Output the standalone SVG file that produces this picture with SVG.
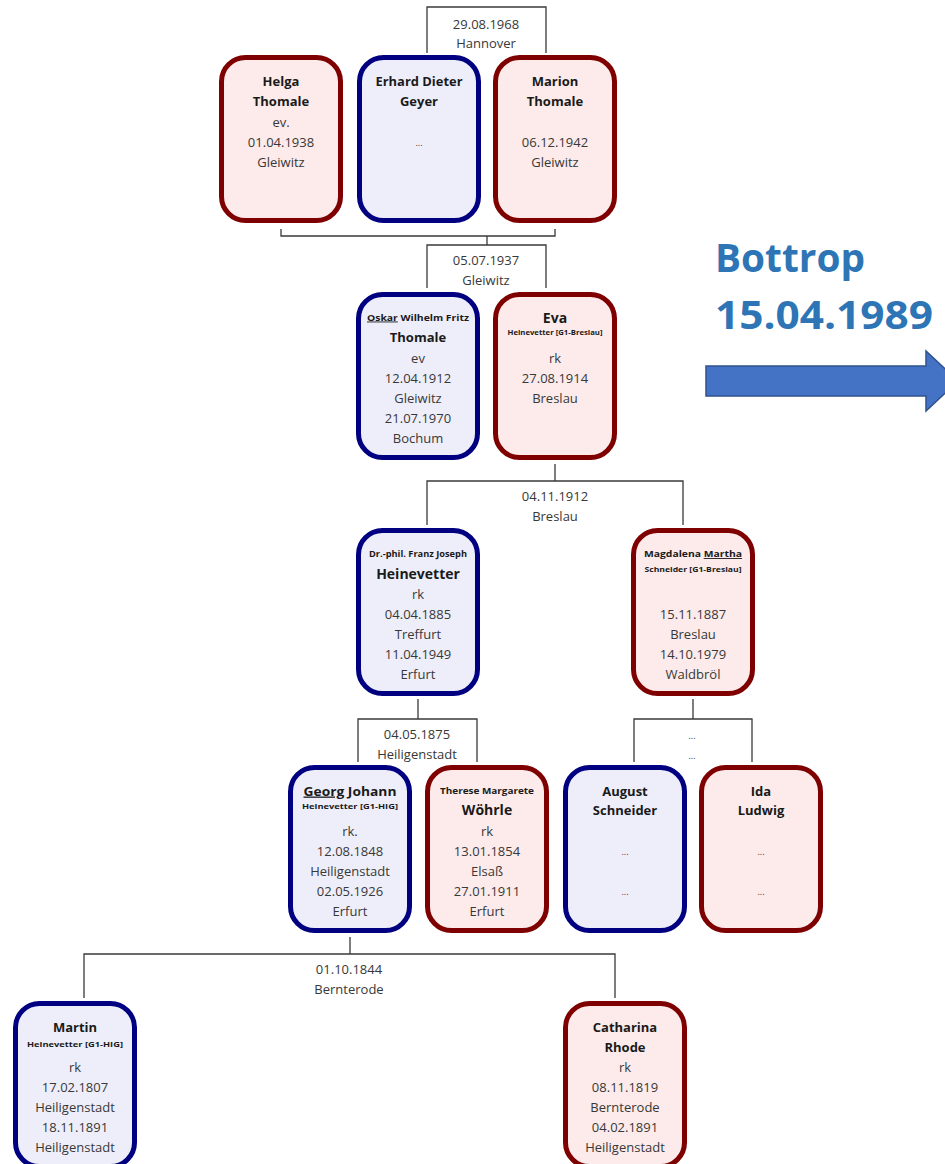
<svg xmlns="http://www.w3.org/2000/svg" width="945" height="1164" viewBox="0 0 945 1164">
<style>
.m use{fill:#EEEEFA;stroke:#000080;stroke-width:5}
.f use{fill:#FCEBEA;stroke:#7F0000;stroke-width:5}
text{font-family:"Open Sans","Noto Sans","DejaVu Sans",sans-serif;fill:#383838;text-anchor:middle}
.n{font-size:13px;font-weight:bold;fill:#1a1a1a}
.r{font-size:13px}
.s{font-size:8px;font-weight:bold;fill:#1a1a1a}
.d{font-size:9px}
.u{text-decoration:underline}
.conn path{fill:none;stroke:#3a3a3a;stroke-width:1.3}
.big{font-family:"Open Sans","Liberation Sans",sans-serif;font-size:40px;font-weight:bold;fill:#2E75B6;text-anchor:start}
</style>
<defs>
<rect id="box" x="2.5" y="2.5" width="119" height="163" rx="24" ry="24"/>
</defs>

<g id="connectors" class="conn">
<path d="M427,53 V7 H546 V53"/>
<path d="M281,229 V236 H555 V229 M487,236 V245"/>
<path d="M427,288 V245 H546 V288"/>
<path d="M555,464 V481 M427,525 V481 H683 V525"/>
<path d="M418,699 V719 M358,762 V719 H477 V762"/>
<path d="M693,699 V719 M634,762 V719 H752 V762"/>
<path d="M350,937 V954 M84,998 V954 H615 V998"/>
</g>

<g id="marriage-labels">
<text class="r" x="486" y="28.5">29.08.1968</text>
<text class="r" x="486" y="47.5">Hannover</text>
<text class="r" x="486" y="264.5">05.07.1937</text>
<text class="r" x="486" y="284.5">Gleiwitz</text>
<text class="r" x="555" y="501">04.11.1912</text>
<text class="r" x="555" y="520.5">Breslau</text>
<text class="r" x="417" y="738.5">04.05.1875</text>
<text class="r" x="417" y="758.5">Heiligenstadt</text>
<text class="d" x="692" y="739">...</text>
<text class="d" x="692" y="759">...</text>
<text class="r" x="349" y="974">01.10.1844</text>
<text class="r" x="349" y="994">Bernterode</text>
</g>

<g id="helga" class="f" transform="translate(219,55)">
<use href="#box"/>
<text class="n" x="62" y="31">Helga</text>
<text class="n" x="62" y="51">Thomale</text>
<text class="r" x="62" y="71.5">ev.</text>
<text class="r" x="62" y="91.5">01.04.1938</text>
<text class="r" x="62" y="111.5">Gleiwitz</text>
</g>

<g id="erhard" class="m" transform="translate(357,55)">
<use href="#box"/>
<text class="n" x="62" y="31" textLength="87" lengthAdjust="spacingAndGlyphs">Erhard Dieter</text>
<text class="n" x="62" y="51">Geyer</text>
<text class="d" x="62" y="91">...</text>
</g>

<g id="marion" class="f" transform="translate(493,55)">
<use href="#box"/>
<text class="n" x="62" y="31">Marion</text>
<text class="n" x="62" y="51">Thomale</text>
<text class="r" x="62" y="91.5">06.12.1942</text>
<text class="r" x="62" y="111.5">Gleiwitz</text>
</g>

<g id="oskar" class="m" transform="translate(356,292)">
<use href="#box"/>
<text class="s" x="62" y="28.5" style="font-size:9px" textLength="102" lengthAdjust="spacingAndGlyphs"><tspan class="u">Oskar</tspan> Wilhelm Fritz</text>
<text class="n" x="62" y="50">Thomale</text>
<text class="r" x="62" y="70.5">ev</text>
<text class="r" x="62" y="90.5">12.04.1912</text>
<text class="r" x="62" y="110.5">Gleiwitz</text>
<text class="r" x="62" y="130.5">21.07.1970</text>
<text class="r" x="62" y="150.5">Bochum</text>
</g>

<g id="eva" class="f" transform="translate(493,292)">
<use href="#box"/>
<text class="n" x="62" y="30.5" style="font-size:14px">Eva</text>
<text class="s" x="62" y="42.5" style="font-size:7px" textLength="95" lengthAdjust="spacingAndGlyphs">Heinevetter [G1-Breslau]</text>
<text class="r" x="62" y="70.5">rk</text>
<text class="r" x="62" y="90.5">27.08.1914</text>
<text class="r" x="62" y="110.5">Breslau</text>
</g>

<g id="franz" class="m" transform="translate(356,528)">
<use href="#box"/>
<text class="s" x="62" y="29" textLength="98" lengthAdjust="spacingAndGlyphs">Dr.-phil. Franz Joseph</text>
<text class="n" x="62" y="50.5" style="font-size:14px">Heinevetter</text>
<text class="r" x="62" y="71">rk</text>
<text class="r" x="62" y="90.5">04.04.1885</text>
<text class="r" x="62" y="111">Treffurt</text>
<text class="r" x="62" y="131">11.04.1949</text>
<text class="r" x="62" y="150.5">Erfurt</text>
</g>

<g id="magdalena" class="f" transform="translate(631,528)">
<use href="#box"/>
<text class="s" x="62" y="29" style="font-size:9px" textLength="98" lengthAdjust="spacingAndGlyphs">Magdalena <tspan class="u">Martha</tspan></text>
<text class="s" x="62" y="43.5" style="font-size:7px" textLength="97" lengthAdjust="spacingAndGlyphs">Schneider [G1-Breslau]</text>
<text class="r" x="62" y="90.5">15.11.1887</text>
<text class="r" x="62" y="111">Breslau</text>
<text class="r" x="62" y="131">14.10.1979</text>
<text class="r" x="62" y="150.5">Waldbröl</text>
</g>

<g id="georg" class="m" transform="translate(288,765)">
<use href="#box"/>
<text class="n" x="62" y="30.5" textLength="93" lengthAdjust="spacingAndGlyphs"><tspan class="u">Georg</tspan> Johann</text>
<text class="s" x="62" y="44" style="font-size:7px" textLength="96" lengthAdjust="spacingAndGlyphs">Heinevetter [G1-HIG]</text>
<text class="r" x="62" y="70.5">rk.</text>
<text class="r" x="62" y="90.5">12.08.1848</text>
<text class="r" x="62" y="110.5">Heiligenstadt</text>
<text class="r" x="62" y="130.5">02.05.1926</text>
<text class="r" x="62" y="150.5">Erfurt</text>
</g>

<g id="therese" class="f" transform="translate(425,765)">
<use href="#box"/>
<text class="s" x="62" y="28.5" textLength="94" lengthAdjust="spacingAndGlyphs">Therese Margarete</text>
<text class="n" x="62" y="50" style="font-size:14px">Wöhrle</text>
<text class="r" x="62" y="70.5">rk</text>
<text class="r" x="62" y="90.5">13.01.1854</text>
<text class="r" x="62" y="110.5">Elsaß</text>
<text class="r" x="62" y="130.5">27.01.1911</text>
<text class="r" x="62" y="150.5">Erfurt</text>
</g>

<g id="august" class="m" transform="translate(563,765)">
<use href="#box"/>
<text class="n" x="62" y="30.5">August</text>
<text class="n" x="62" y="50">Schneider</text>
<text class="d" x="62" y="90">...</text>
<text class="d" x="62" y="130">...</text>
</g>

<g id="ida" class="f" transform="translate(699,765)">
<use href="#box"/>
<text class="n" x="62" y="30.5">Ida</text>
<text class="n" x="62" y="50">Ludwig</text>
<text class="d" x="62" y="90">...</text>
<text class="d" x="62" y="130">...</text>
</g>

<g id="martin" class="m" transform="translate(13,1001)">
<use href="#box"/>
<text class="n" x="62" y="30.5">Martin</text>
<text class="s" x="62" y="46" style="font-size:7px" textLength="96" lengthAdjust="spacingAndGlyphs">Heinevetter [G1-HIG]</text>
<text class="r" x="62" y="70.5">rk</text>
<text class="r" x="62" y="90.5">17.02.1807</text>
<text class="r" x="62" y="110.5">Heiligenstadt</text>
<text class="r" x="62" y="130.5">18.11.1891</text>
<text class="r" x="62" y="150.5">Heiligenstadt</text>
</g>

<g id="catharina" class="f" transform="translate(563,1001)">
<use href="#box"/>
<text class="n" x="62" y="30.5">Catharina</text>
<text class="n" x="62" y="50.5">Rhode</text>
<text class="r" x="62" y="70.5">rk</text>
<text class="r" x="62" y="90.5">08.11.1819</text>
<text class="r" x="62" y="110.5">Bernterode</text>
<text class="r" x="62" y="130.5">04.02.1891</text>
<text class="r" x="62" y="150.5">Heiligenstadt</text>
</g>

<g id="bottrop">
<text class="big" x="715" y="272" textLength="150" lengthAdjust="spacingAndGlyphs">Bottrop</text>
<text class="big" x="715" y="329" textLength="218" lengthAdjust="spacingAndGlyphs">15.04.1989</text>
<polygon points="706,366 926,366 926,351 958,381 926,411 926,396 706,396" fill="#4472C4" stroke="#2F528F" stroke-width="1.5"/>
</g>
</svg>
